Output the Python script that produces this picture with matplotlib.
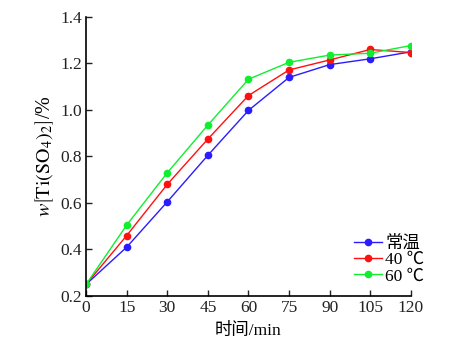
import matplotlib
matplotlib.use("Agg")
import matplotlib.pyplot as plt

plt.rcParams['font.family'] = ['Liberation Serif', 'Noto Sans CJK SC']
plt.rcParams['mathtext.fontset'] = 'stix'

time = [0, 15, 30, 45, 60, 75, 90, 105, 120]
room = [0.25, 0.41, 0.605, 0.805, 0.998, 1.14, 1.195, 1.22, 1.25]
t40 = [0.25, 0.46, 0.68, 0.875, 1.062, 1.172, 1.215, 1.26, 1.247]
t60 = [0.25, 0.505, 0.73, 0.935, 1.132, 1.205, 1.236, 1.244, 1.277]
labels = ['常温', '40 ℃', '60 ℃']
colors = ['#2b1bff', '#ff1010', '#10ee30']

fig = plt.figure(figsize=(4.58, 3.53), dpi=100)
ax = fig.add_axes([0.188, 0.1615, 0.709, 0.7905])

for ys, lab, c in zip([room, t40, t60], labels, colors):
  ax.plot(time, ys, '-o', color=c, lw=1.0, ms=4.5, label=lab)

ax.set_xlim(0, 120)
ax.set_ylim(0.2, 1.4)
ax.set_xticks(time)
ax.set_yticks([0.2, 0.4, 0.6, 0.8, 1.0, 1.2, 1.4])
ax.set_yticklabels(['0.2', '0.4', '0.6', '0.8', '1.0', '1.2', '1.4'])
ax.spines['top'].set_visible(False)
ax.spines['right'].set_visible(False)
for s in ['left', 'bottom']:
  ax.spines[s].set_linewidth(1.2)
ax.tick_params(direction='in', length=4, width=1.0, labelsize=12.5, colors='#222222', pad=3)

ax.set_xlabel('时间/min', fontsize=12.5, labelpad=5)
ax.set_ylabel(r'$w\left[\mathrm{Ti(SO_4)_2}\right]$/%', fontsize=14.5, labelpad=3)

ax.legend(loc='lower right', bbox_to_anchor=(0.953, 0.16), bbox_transform=fig.transFigure,
          frameon=False, fontsize=12.5, handlelength=1.6, handletextpad=0.2,
          labelspacing=0.0, borderpad=0.2)

fig.savefig('out.png', dpi=100)
